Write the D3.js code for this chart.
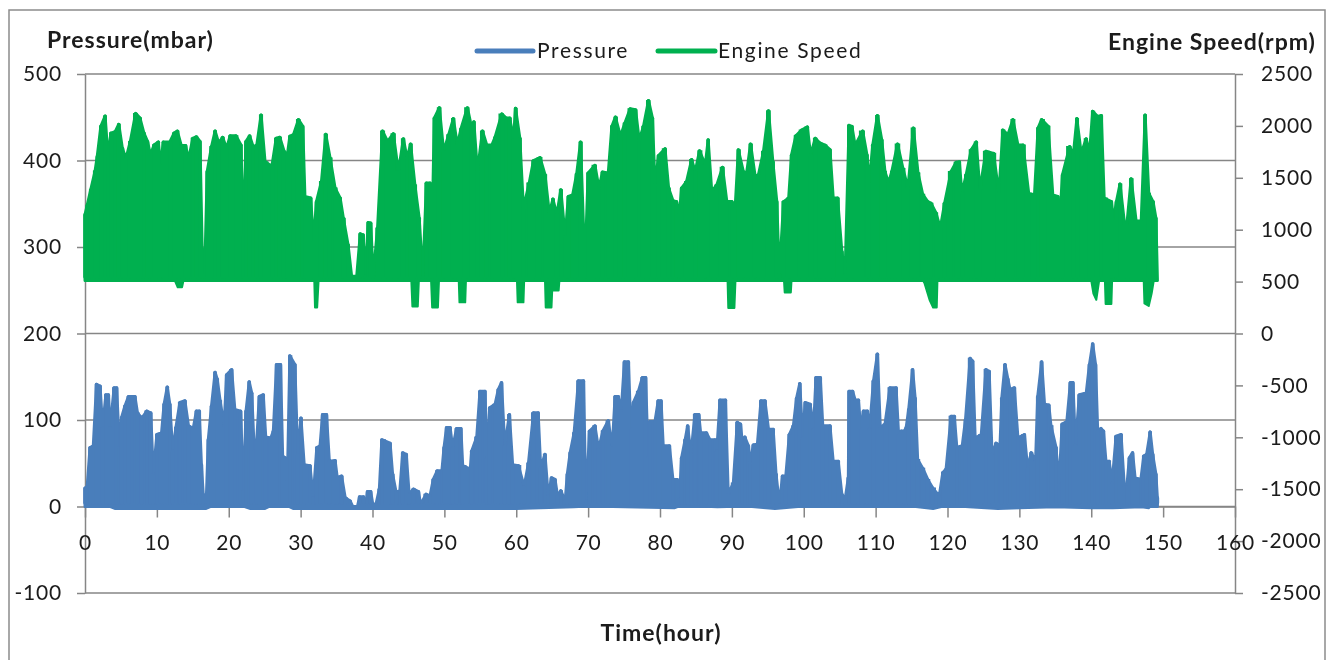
<!DOCTYPE html>
<html><head><meta charset="utf-8">
<script src="https://cdn.jsdelivr.net/npm/d3@7"></script>
<style>html,body{margin:0;background:#fff}svg{display:block}text{font-family:Lato,"Open Sans",sans-serif;fill:#1a1a1a}</style>
</head><body><svg id="c" width="1326" height="660"></svg>
<script>
const xTicks=[0,10,20,30,40,50,60,70,80,90,100,110,120,130,140,150,160];
const pressureTicks=[-100,0,100,200,300,400,500];
const speedTicks=[-2500,-2000,-1500,-1000,-500,0,500,1000,1500,2000,2500];
const seriesNames=["Pressure","Engine Speed"];

const speedPeakHours=[0,.3,.8,1.4,1.7,2.2,2.8,3.2,3.6,4.2,4.7,5.2,5.7,6.3,7.05,7.65,8.2,8.7,9.1,9.6,10.2,10.5,10.9,11.8,12.4,12.85,13.4,14,14.4,15,15.5,16,16.3,16.65,17,17.6,18.1,18.6,19.15,19.7,20.2,21,21.7,22,22.4,22.9,23.4,23.9,24.5,25.05,26,26.6,27.1,27.7,28.15,28.5,29,29.7,30.3,30.6,31.4,31.8,32.2,32.9,33.5,34.1,34.8,35.5,35.95,36.6,37.1,37.8,38.3,38.7,39,39.4,39.75,40.1,40.7,41.4,42.1,42.9,43.6,44.3,44.8,45.3,45.9,46.5,47,47.5,48,48.3,48.6,49.3,49.9,50.6,51.25,51.8,52.3,53.2,53.8,54.1,54.6,55.3,55.9,56.6,57.05,58,58.6,59.1,59.6,59.9,60.5,61,61.8,62.4,63.3,64,64.6,65.1,65.65,66.2,66.8,67.25,67.85,68.4,68.95,69.55,70,70.95,71.5,72,72.8,73.3,73.8,74.5,75.1,75.85,76.6,77.1,77.7,78.4,78.95,79.3,79.8,80.7,81.2,81.8,82.3,82.7,83,83.7,84.4,84.9,85.5,86.3,86.7,87.2,87.9,88.7,89.3,90,90.45,90.9,91.6,92.05,92.6,93.25,93.7,94.4,95.1,95.7,96.25,96.6,97.2,97.9,98.3,98.9,99.7,100.5,100.95,101.6,102.25,102.95,103.65,104.1,104.7,105.3,105.75,106.3,106.7,107.15,108.2,108.8,109.1,109.6,110.25,110.85,111.3,111.8,112.25,113.05,113.8,114.5,115.25,115.9,116.55,117.25,117.7,118.4,119,119.6,120.5,121.2,121.65,122,122.6,123.3,124,124.5,125.35,126.4,127.15,127.7,128.4,129.1,129.8,130.5,131.3,132.1,132.6,133.1,134,134.65,135.35,135.6,136,137,137.5,138,138.6,139.3,139.75,140.2,140.9,141.4,141.8,142.8,143.1,143.5,144,144.65,144.95,145.55,146.25,146.95,147.5,148,148.6,149,149.2];
const speedPeaks=[1160,1250,1400,1580,1720,2010,2110,1720,1945,1960,2030,1800,1700,1865,2135,2090,1945,1865,1735,1830,1860,1640,1860,1860,1945,1965,1825,1825,1690,1895,1910,1865,835,580,1575,1815,1965,1850,1905,1800,1920,1920,1830,965,1865,1920,1815,1830,2120,1670,1625,1895,1905,1770,1735,1915,1930,2075,2010,1335,1320,900,1285,1480,1935,1705,1415,1320,1125,870,565,565,975,965,565,1085,1080,565,1030,1965,1865,1940,1575,1890,1705,1840,1445,1125,565,1465,1465,1030,2090,2190,1770,1930,2085,1830,1985,2190,1995,2055,1575,1965,1830,1830,1905,2130,2090,2090,1880,2185,1895,1220,1465,1680,1710,1545,1175,1310,1160,1400,950,1335,1350,1550,1860,645,1560,1635,1415,1570,1560,2010,2100,1915,2040,2180,2170,1880,2010,2260,2090,1445,1730,1795,1415,1295,1285,1160,1415,1480,1690,1575,1775,1640,1880,1385,1445,1615,1285,1285,1220,1785,1575,1560,1840,1525,1545,1770,2160,1670,1285,580,1285,1320,1735,1920,1975,2005,1735,1895,1850,1830,1785,1320,1320,805,580,2020,2010,1825,1965,1735,1465,1830,2115,1880,1575,1465,1575,1840,1605,1415,1995,1560,1355,1285,1270,1175,1030,1270,1575,1665,1670,1365,1545,1785,1860,1400,1770,1750,1365,1975,1930,2075,1830,1830,1365,1350,1995,2075,2010,1350,1335,1095,1545,1815,1735,2085,1750,1890,1750,2155,2105,2115,1320,1285,1110,1285,1455,1060,1060,1505,1095,1100,2120,1365,1285,1125,550];
const speedFloorHours=[0,12.5,12.9,13.5,13.7,31.6,31.9,32,32.3,32.5,45.4,45.55,46.3,46.45,48.15,48.3,49.1,49.25,52,52.1,52.9,53,60.1,60.2,61,61.1,64,64.1,64.9,65,65.9,66,89.4,89.5,90.35,90.5,97.25,97.35,98.2,98.3,116.6,116.8,117.5,118,118.5,118.6,140,140.3,140.7,141.1,141.9,142,142.4,142.8,142.9,147.3,147.4,148,148.4,148.7,149.2];
const speedFloor=[510,510,445,445,510,510,510,250,250,510,510,260,260,510,510,250,250,510,510,300,300,510,510,300,300,510,510,250,250,415,415,510,510,245,245,510,510,395,395,510,510,485,325,250,250,510,510,385,325,510,510,285,285,285,510,510,290,265,385,510,510];
const speedBase=[510];

const pressurePeakHours=[0,.3,.7,1.15,1.6,2.1,2.45,2.9,3.25,3.5,4.05,4.4,4.8,5.1,5.55,6.05,6.95,7.3,7.9,8.6,9.15,9.5,10,10.65,11,11.45,11.8,12.2,12.65,13.2,13.9,14.4,15.05,15.5,15.9,16.2,16.45,16.85,17.15,17.6,18.1,18.4,18.8,19.35,19.7,20.4,20.85,21.65,22.05,22.4,22.85,23.2,23.55,23.9,24.25,24.8,25.15,25.85,26.2,26.65,27.2,27.5,27.85,28.15,28.5,29.2,29.6,30.05,30.5,31.3,31.75,32.25,32.7,33.05,33.6,34,34.8,35.1,35.7,36.2,36.9,37.25,37.9,38.2,38.75,39.05,39.3,39.75,40.05,40.5,40.95,41.3,42.45,42.8,43.3,43.8,44.2,44.7,45.1,45.7,46.4,46.7,47.45,48,48.45,49,49.65,49.95,50.3,50.8,51.15,51.7,52.3,52.55,53.6,53.8,54.5,54.95,55.65,55.9,56.3,57.05,57.5,57.95,58.4,59.05,59.5,60.3,61.1,61.7,62.4,63.05,63.4,64,64.45,64.9,65.4,65.75,66.2,66.8,67.1,67.5,68.05,68.65,69.35,69.7,70.2,70.95,71.45,72.05,72.8,73.35,73.75,74.2,74.6,75.05,75.6,75.95,76.3,77,77.55,78,78.35,78.6,79.3,79.75,80.15,80.45,81.3,81.8,82.4,82.7,83,83.5,83.85,84.3,84.85,85.4,85.65,86.45,86.95,87.65,87.9,88.35,89.1,89.5,90.2,90.75,91.2,91.5,91.8,92.3,92.5,93,93.55,94.05,94.6,95.1,95.75,96.15,96.6,97.05,97.5,98,98.55,99,99.45,99.85,100.2,100.9,101.35,101.7,102.3,102.65,103.65,104.1,104.8,105.3,105.75,106.2,106.3,106.8,107.15,107.6,107.95,108.3,108.85,109.15,109.7,110.25,110.65,111.3,112,112.85,113.2,113.55,114,114.25,114.6,115.15,115.5,115.85,116.55,117.25,117.95,118.85,119.35,119.8,120.5,120.95,121.3,122.05,122.5,123.15,123.5,123.85,124.7,125.35,125.8,126.2,126.75,127.3,127.55,128,128.4,128.7,129.3,129.8,130.7,131.15,131.65,132.25,132.55,133.1,133.5,134.1,134.4,135.1,135.5,135.95,136.6,137.1,137.45,137.8,138.35,139.3,139.75,140.2,140.6,140.9,141.35,141.7,142.05,142.5,142.9,143.45,144.15,144.6,144.95,145.3,145.75,146.1,146.9,147.3,147.7,148.2,148.55,149,149.2];
const pressurePeaks=[23,25,70,72,143,141,93,131,131,93,139,139,70,105,118,129,129,110,104,112,110,39,85,87,120,140,120,66,93,122,124,95,92,112,112,50,16,4,79,118,157,149,124,95,154,160,114,112,20,112,146,133,66,79,129,131,82,81,89,166,166,60,58,31,176,166,62,104,50,49,12,70,72,108,108,54,55,35,37,12,8,0,0,13,13,2,19,19,4,5,22,79,75,39,18,20,64,62,16,22,19,4,16,14,33,43,43,70,93,93,70,92,92,49,45,66,82,135,135,58,116,120,137,145,72,108,50,49,25,52,110,110,47,62,14,35,33,14,20,8,39,64,87,147,147,8,89,95,68,89,101,70,129,129,112,169,169,91,122,135,151,151,58,100,100,124,124,72,72,33,33,10,58,79,95,62,108,108,87,87,79,79,66,125,125,16,29,99,97,72,82,72,52,73,74,124,124,91,91,39,5,37,37,85,95,127,144,81,122,120,91,151,151,95,95,54,54,16,10,35,135,135,125,125,91,112,112,91,147,178,93,97,139,139,85,89,89,93,114,160,127,56,46,33,23,14,41,45,106,106,70,72,102,173,170,81,85,160,158,62,75,72,127,166,149,137,139,81,85,46,64,54,129,169,120,119,95,70,27,97,100,145,145,73,131,133,166,190,166,89,92,89,54,54,29,83,85,25,25,58,64,35,33,60,62,88,62,39,12];
const pressureFloorHours=[0,3,4.2,16.8,17.6,19,22,23,25,26,28,29,60,68,70,82,83,88,92,96,100,115,118,120,123,127,130,135,140,143,147,148,149.2];
const pressureFloor=[2,1,-3,-3,0,1,0,-3,-3,1,1,-3,-3,-1,0,-2,1,-1,0,-3,0,0,-3,1,-1,-3,-2,-1,-2,-2,-1,-2,8];
const pressureBase=[0];

const H=660;
const x=d3.scaleLinear().domain([0,160]).range([85,1235]);
const yP=d3.scaleLinear().domain([-100,500]).range([593,74]);
const yS=d3.scaleLinear().domain([-2500,2500]).range([593,74]);
const svg=d3.select("#c");
const AX="#868686", SZ=21, SPIKE=3.6, EDGE=3;
svg.append("defs").append("filter").attr("id","soft").append("feGaussianBlur").attr("stdDeviation",0.45);
const g=svg.append("g").attr("filter","url(#soft)");
g.append("path").attr("d",`M9,${H} V10 H1325 V${H}`).attr("fill","none").attr("stroke","#8c8c8c").attr("stroke-width",1.5);

g.append("g").selectAll("line").data(pressureTicks).join("line")
 .attr("x1",x(0)).attr("x2",x(160)).attr("y1",d=>yP(d)).attr("y2",d=>yP(d))
 .attr("stroke",AX).attr("stroke-width",1.5);

function style(a){a.selectAll("path,line").attr("stroke",AX).attr("stroke-width",1.5);
 a.selectAll("text").style("font-size",SZ+"px").style("letter-spacing","0.8px").attr("fill","#1a1a1a");}
const fmt=d=>String(d);
const aL=g.append("g").attr("transform",`translate(${x(0)},0)`)
 .call(d3.axisLeft(yP).tickValues(pressureTicks).tickSize(8).tickPadding(15).tickSizeOuter(0).tickFormat(fmt));
const aR=g.append("g").attr("transform",`translate(${x(160)},0)`)
 .call(d3.axisRight(yS).tickValues(speedTicks).tickSize(8).tickPadding(18).tickSizeOuter(0).tickFormat(fmt));
const aB=g.append("g").attr("transform",`translate(0,${yP(0)})`)
 .call(d3.axisBottom(x).tickValues(xTicks).tickSize(11).tickPadding(18).tickSizeOuter(0).tickFormat(fmt));
style(aL);style(aR);style(aB);

function shape(hours,peaks,fh,floor,base,y,color){
  const top=hours.map((t,i)=>[t,peaks[i]]);
  const bot=fh.map((t,i)=>[t,floor[i]]);
  const layer=g.append("g");
  layer.append("path").datum(top).attr("fill",color).attr("stroke",color).attr("stroke-width",EDGE).attr("stroke-linejoin","round")
   .attr("d",d3.area().x(d=>x(d[0])).y0(y(base)).y1(d=>Math.min(y(base),y(d[1])+EDGE/2)));
  layer.append("path").datum(top).attr("fill",color)
   .attr("d",d3.area().x(d=>x(d[0])).y0(y(base)).y1(d=>y(d[1])+1).curve(d3.curveStep));
  layer.append("path").datum(bot).attr("fill",color).attr("stroke",color).attr("stroke-width",2).attr("stroke-linejoin","round")
   .attr("d",d3.area().x(d=>x(d[0])).y0(y(base)).y1(d=>y(d[1])));
  layer.append("g").selectAll("line").data(top.filter(d=>y(d[1])+SPIKE/2<y(base)-SPIKE)).join("line")
   .attr("x1",d=>x(d[0])).attr("x2",d=>x(d[0])).attr("y1",y(base)-SPIKE).attr("y2",d=>y(d[1])+SPIKE/2)
   .attr("stroke",color).attr("stroke-width",SPIKE).attr("stroke-linecap","round");
}
const colors=["#4a7ebb","#00b050"];
shape(pressurePeakHours,pressurePeaks,pressureFloorHours,pressureFloor,pressureBase[0],yP,colors[0]);
shape(speedPeakHours,speedPeaks,speedFloorHours,speedFloor,speedBase[0],yS,colors[1]);

const bold=(t,px,py,a)=>g.append("text").text(t).attr("x",px).attr("y",py).attr("text-anchor",a||"start")
 .style("font-size","23px").style("font-weight","700").style("letter-spacing","1px");
bold("Pressure(mbar)",47,48);
bold("Engine Speed(rpm)",1108,50);
bold("Time(hour)",661,641,"middle");

const lx=[[477,533,537],[658,715,718]];
seriesNames.forEach((n,i)=>{
 g.append("line").attr("x1",lx[i][0]).attr("x2",lx[i][1]).attr("y1",51).attr("y2",51)
  .attr("stroke",colors[i]).attr("stroke-width",5).attr("stroke-linecap","round");
 g.append("text").text(n).attr("x",lx[i][2]).attr("y",58).style("font-size","21px").style("letter-spacing","1.65px");
});
</script></body></html>
